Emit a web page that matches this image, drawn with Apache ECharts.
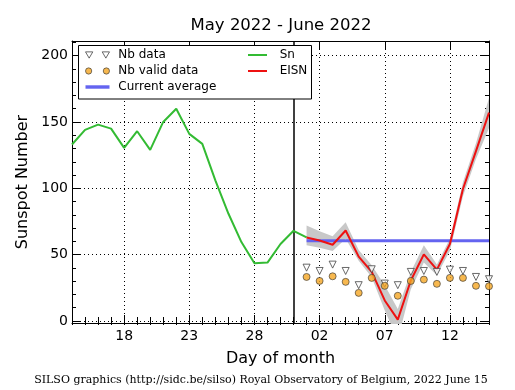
<!DOCTYPE html>
<html>
<head>
<meta charset="utf-8">
<script src="https://cdn.jsdelivr.net/npm/echarts@6/dist/echarts.min.js"></script>
<style>html,body{margin:0;padding:0;background:#fff;}#c{width:515px;height:390px;}</style>
</head>
<body>
<div id="c"></div>
<script>
// ---- data ----
const days = ['14','15','16','17','18','19','20','21','22','23','24','25','26','27','28','29','30','31',
              '01','02','03','04','05','06','07','08','09','10','11','12','13','14','15'];
const majorLabels = ['18','23','28','02','07','12'];
// Sn: May 14 .. June 1
const snData = [133, 144, 148, 145, 130.5, 143, 129, 150, 160, 141, 133.5, 106, 81, 59.5, 43.5, 44, 58, 68, 63];
// June 1 .. June 15
const eisnData  = [63, 60.7, 57.5, 68.2, 48.5, 37, 15.5, 1, 30.5, 50.2, 38.7, 58, 99.5, 128, 157];
const eisnHigh  = [72, 67.6, 63.8, 74.5, 53.5, 42, 27, 9, 37, 57, 42.5, 62, 104.5, 134, 168];
const eisnLow   = [57, 55.2, 52.7, 62, 45.5, 33, 8, -14, 24, 44, 34.5, 53, 94, 122, 145.5];
const nbData    = [40.2, 37.7, 42.5, 37.7, 27, 39, 28.2, 27, 37, 37.7, 37, 38.7, 37.7, 33.2, 31.5];
const nbValid   = [33.2, 30.2, 33.7, 29.5, 21.2, 32.5, 26.5, 19, 30.2, 31.2, 28, 32.5, 32.5, 26.5, 26.2];
const currentAverage = 60.4;
const monthBreakDay = '31';

const juneStart = 18;
const pad = Array(juneStart).fill(null);
const eisnSeries = pad.concat(eisnData);
const lowSeries = pad.concat(eisnLow);
const bandSeries = pad.concat(eisnHigh.map((h, i) => h - eisnLow[i]));
const nbSeries = pad.concat(nbData);
const nbValidSeries = pad.concat(nbValid);
const avgSeries = pad.concat(eisnData.map(() => currentAverage));

const isMajor = (i, v) => majorLabels.indexOf(v) >= 0 && i >= 4;
const FONT = 'DejaVu Sans';

const chart = echarts.init(document.getElementById('c'), null, {renderer: 'canvas'});
const grid = {left: 72, right: 26, top: 41, bottom: 67, containLabel: false};

const xBase = {type: 'category', data: days, boundaryGap: false, gridIndex: 0};
const yBase = {type: 'value', min: -1.5, max: 211, splitNumber: 5};

chart.setOption({
  animation: false,
  backgroundColor: '#fff',
  title: [
    {text: 'May 2022 - June 2022', left: 276, top: 12, textAlign: 'center',
     textStyle: {fontFamily: FONT, fontSize: 16.5, fontWeight: 'normal', color: '#000'}},
    {text: 'SILSO graphics (http://sidc.be/silso) Royal Observatory of Belgium, 2022 June 15',
     left: 256, top: 370, textAlign: 'center',
     textStyle: {fontFamily: 'DejaVu Serif', fontSize: 11, fontWeight: 'normal', color: '#000'}}
  ],
  grid: grid,
  xAxis: [
    Object.assign({}, xBase, {
      position: 'bottom',
      name: 'Day of month', nameLocation: 'middle', nameGap: 28,
      nameTextStyle: {fontFamily: FONT, fontSize: 16, color: '#000'},
      axisLine: {show: true, onZero: false, lineStyle: {color: '#000', width: 1}},
      axisTick: {show: true, inside: true, length: 8, interval: isMajor, lineStyle: {color: '#000'}},
      axisLabel: {show: true, interval: isMajor, margin: 6, fontFamily: FONT, fontSize: 14, color: '#000'},
      splitLine: {show: true, interval: isMajor, lineStyle: {color: '#000', type: [1, 3], width: 1}}
    }),
    Object.assign({}, xBase, {
      position: 'bottom',
      axisLine: {show: false},
      axisTick: {show: true, inside: true, length: 4, interval: 0, lineStyle: {color: '#000'}},
      axisLabel: {show: false}, splitLine: {show: false}
    }),
    Object.assign({}, xBase, {
      position: 'top',
      axisLine: {show: true, onZero: false, lineStyle: {color: '#000', width: 1}},
      axisTick: {show: true, inside: true, length: 8, interval: isMajor, lineStyle: {color: '#000'}},
      axisLabel: {show: false}, splitLine: {show: false}
    }),
    Object.assign({}, xBase, {
      position: 'top',
      axisLine: {show: false},
      axisTick: {show: true, inside: true, length: 4, interval: 0, lineStyle: {color: '#000'}},
      axisLabel: {show: false}, splitLine: {show: false}
    })
  ],
  yAxis: [
    Object.assign({}, yBase, {
      position: 'left',
      name: 'Sunspot Number', nameLocation: 'middle', nameGap: 37, nameRotate: 90,
      nameTextStyle: {fontFamily: FONT, fontSize: 16, color: '#000'},
      axisLine: {show: true, onZero: false, lineStyle: {color: '#000', width: 1}},
      axisTick: {show: true, inside: true, length: 8, lineStyle: {color: '#000'}},
      minorTick: {show: true, splitNumber: 5, length: 4, lineStyle: {color: '#000'}},
      axisLabel: {show: true, showMinLabel: false, showMaxLabel: false, margin: 4,
                  fontFamily: FONT, fontSize: 14, color: '#000'},
      splitLine: {show: true, lineStyle: {color: '#000', type: [1, 3], width: 1}}
    }),
    Object.assign({}, yBase, {
      position: 'right',
      axisLine: {show: true, onZero: false, lineStyle: {color: '#000', width: 1}},
      axisTick: {show: true, inside: true, length: 8, lineStyle: {color: '#000'}},
      minorTick: {show: true, splitNumber: 5, length: 4, lineStyle: {color: '#000'}},
      axisLabel: {show: false}, splitLine: {show: false}
    })
  ],
  legend: [
    {
      left: 85, top: 49, padding: 0, orient: 'vertical', itemGap: 4, itemWidth: 24, itemHeight: 12, z: 7,
      formatter: ' {name}',
      textStyle: {fontFamily: FONT, fontSize: 12, color: '#000'},
      data: [
        {name: 'Nb data', icon: 'path://M0,0L7,0L3.5,6Z M16,0L23,0L19.5,6Z',
         itemStyle: {color: '#fff', borderColor: '#444', borderWidth: 1}},
        {name: 'Nb valid data', icon: 'path://M0,3A3,3 0 1 1 6,3A3,3 0 1 1 0,3Z M17,3A3,3 0 1 1 23,3A3,3 0 1 1 17,3Z',
         itemStyle: {color: '#f5a623', borderColor: '#333', borderWidth: 0.8}},
        {name: 'Current average', icon: 'path://M0,0L21,0L21,3L0,3Z',
         itemStyle: {color: '#6464f0', borderWidth: 0}}
      ]
    },
    {
      left: 248, top: 49, padding: 0, orient: 'vertical', itemGap: 4, itemWidth: 19, itemHeight: 12, z: 7,
      formatter: '  {name}',
      textStyle: {fontFamily: FONT, fontSize: 12, color: '#000'},
      data: [
        {name: 'Sn', icon: 'path://M0,0L19,0L19,2L0,2Z', itemStyle: {color: '#33bb33', borderWidth: 0}},
        {name: 'EISN', icon: 'path://M0,0L19,0L19,2L0,2Z', itemStyle: {color: '#ee1111', borderWidth: 0}}
      ]
    }
  ],
  graphic: [
    {type: 'rect', z: 6, shape: {x: 78.5, y: 45.5, width: 233, height: 53.5},
     style: {fill: '#fff', stroke: '#000', lineWidth: 1}}
  ],
  series: [
    {name: 'band-low', type: 'line', data: lowSeries, stack: 'band', stackStrategy: 'all',
     symbol: 'none', lineStyle: {opacity: 0}, silent: true, z: 1},
    {name: 'band', type: 'line', data: bandSeries, stack: 'band', stackStrategy: 'all',
     symbol: 'none', lineStyle: {opacity: 0}, areaStyle: {color: '#c8c8c8', opacity: 1}, silent: true, z: 1},
    {name: 'Sn', type: 'line', data: snData, symbol: 'none', itemStyle: {color: '#33bb33'},
     lineStyle: {color: '#33bb33', width: 2}, z: 3,
     markLine: {silent: true, z: 2, symbol: 'none', label: {show: false},
                lineStyle: {color: '#000', type: 'solid', width: 1.5},
                data: [{xAxis: monthBreakDay}]}},
    {name: 'Current average', type: 'line', data: avgSeries, symbol: 'none',
     itemStyle: {color: '#6464f0'}, lineStyle: {color: '#6464f0', width: 3}, z: 3},
    {name: 'EISN', type: 'line', data: eisnSeries, symbol: 'none', itemStyle: {color: '#ee1111'},
     lineStyle: {color: '#ee1111', width: 2}, z: 4},
    {name: 'Nb data', type: 'scatter', data: nbSeries, symbol: 'triangle', symbolRotate: 180, symbolSize: 7,
     itemStyle: {color: '#fff', borderColor: '#444', borderWidth: 1}, z: 5},
    {name: 'Nb valid data', type: 'scatter', data: nbValidSeries, symbol: 'circle', symbolSize: 7,
     itemStyle: {color: '#f5a623', borderColor: '#333', borderWidth: 0.8}, z: 5}
  ]
});
</script>
</body>
</html>
